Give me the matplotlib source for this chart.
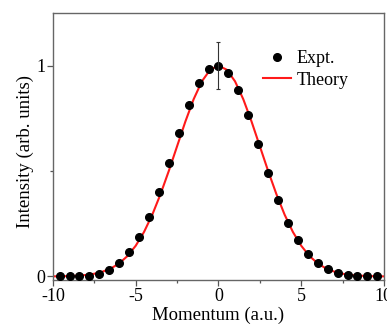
import numpy as np
import matplotlib
matplotlib.use('Agg')
import matplotlib.pyplot as plt
from matplotlib.ticker import MultipleLocator

plt.rcParams['font.family'] = ['Liberation Serif', 'DejaVu Serif']

expt_x = [-9.6, -9.0, -8.4, -7.8, -7.2, -6.6, -6.0, -5.4, -4.8, -4.2, -3.6,
          -3.0, -2.4, -1.8, -1.2, -0.6, 0.0, 0.6, 1.2, 1.8, 2.4, 3.0, 3.6,
          4.2, 4.8, 5.4, 6.0, 6.6, 7.2, 7.8, 8.4, 9.0, 9.6]
expt_y = [0.0, 0.0, 0.0, 0.003, 0.013, 0.03, 0.063, 0.115, 0.186, 0.284, 0.403,
          0.539, 0.681, 0.814, 0.918, 0.986, 1.0, 0.965, 0.883, 0.764, 0.629,
          0.491, 0.363, 0.256, 0.171, 0.106, 0.063, 0.036, 0.018, 0.008,
          0.004, 0.003, 0.003]
err_x = [0.0]
err_y = [1.0]
err_size = [0.11]

# theory curve
theory_x = [-10, -9.5, -9, -8.5, -8, -7.5, -7, -6.5, -6, -5.5, -5, -4.5, -4,
            -3.5, -3, -2.5, -2, -1.5, -1, -0.5, 0, 0.5, 1, 1.5, 2, 2.5, 3,
            3.5, 4, 4.5, 5, 5.5, 6, 6.5, 7, 7.5, 8, 8.5, 9, 9.5, 10]
theory_y = [0.0005, 0.001, 0.002, 0.004, 0.007, 0.013, 0.023, 0.038, 0.062,
            0.097, 0.146, 0.211, 0.293, 0.391, 0.501, 0.618, 0.735, 0.841,
            0.926, 0.981, 1.0, 0.981, 0.926, 0.841, 0.735, 0.618, 0.501,
            0.391, 0.293, 0.211, 0.146, 0.097, 0.062, 0.038, 0.023, 0.013,
            0.007, 0.004, 0.002, 0.001, 0.0005]

fig = plt.figure(figsize=(3.87, 3.33), dpi=100)
ax = fig.add_axes([0.137, 0.159, 0.855, 0.802])

ax.plot(theory_x, theory_y, color='#ff1a1a', lw=1.5, label='Theory', zorder=2)
ax.plot(expt_x, expt_y, 'o', color='black', ms=5.5, label='Expt.', zorder=3)
ax.errorbar(err_x, err_y, yerr=err_size, fmt='none', ecolor='#333333',
            elinewidth=0.8, capsize=1.6, capthick=0.8, zorder=4)

ax.set_xlim(-10, 10)
ax.set_ylim(-0.017, 1.25)
ax.set_xticks([-10, -5, 0, 5, 10])
ax.set_xticklabels(['-10', '-5', '0', '5', '10'])
ax.xaxis.set_minor_locator(MultipleLocator(2.5))
ax.set_yticks([0, 1])
ax.yaxis.set_minor_locator(MultipleLocator(0.5))
ax.tick_params(which='major', direction='out', length=4, width=0.9,
               color='#555555', labelsize=13, pad=1.5)
ax.tick_params(which='minor', direction='out', length=2, width=0.9,
               color='#555555')
for s in ax.spines.values():
    s.set_color('#666666')
    s.set_linewidth(1.0)

ax.set_xlabel('Momentum (a.u.)', fontsize=13.5, labelpad=1.5)
ax.set_ylabel('Intensity (arb. units)', fontsize=13.5)
ax.yaxis.set_label_coords(-0.058, 0.48)

h, l = ax.get_legend_handles_labels()
ax.legend([h[1], h[0]], [l[1], l[0]], loc='upper left',
          bbox_to_anchor=(0.634, 0.861), frameon=False, fontsize=13,
          borderaxespad=0, borderpad=0, handlelength=1.55,
          handletextpad=0.3, labelspacing=0.25)

fig.savefig('out.png', dpi=100)
